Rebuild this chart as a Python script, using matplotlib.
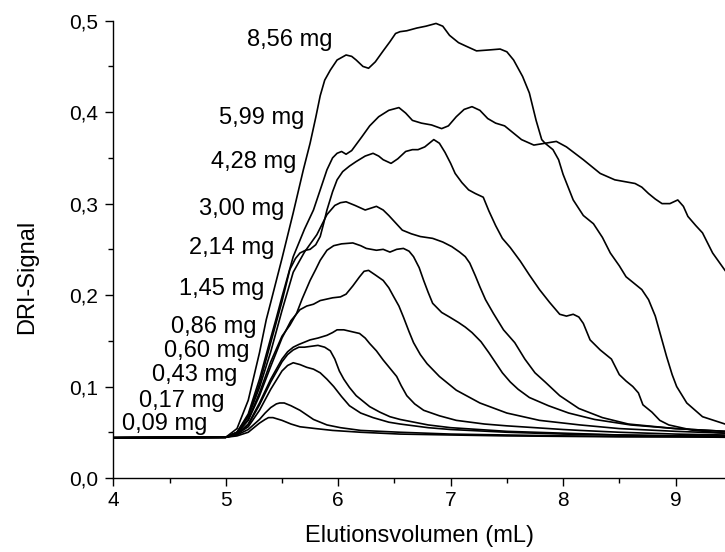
import matplotlib
matplotlib.use("Agg")
import matplotlib.pyplot as plt
from matplotlib.ticker import MultipleLocator, FuncFormatter

plt.rcParams['font.family'] = ['Liberation Sans', 'DejaVu Sans']

# Elugramme (DRI-Signal) fuer verschiedene Einwaagen
massen = ["0,09 mg", "0,17 mg", "0,43 mg", "0,60 mg", "0,86 mg", "1,45 mg",
          "2,14 mg", "3,00 mg", "4,28 mg", "5,99 mg", "8,56 mg"]

x_009 = [4.0, 5.0, 5.1, 5.2, 5.25, 5.3, 5.35, 5.38, 5.42, 5.5, 5.58, 5.66, 5.8, 5.95, 6.2,
         6.55, 7.0, 7.5, 8.0, 8.5, 9.0, 9.44]
y_009 = [0.044, 0.0445, 0.046, 0.050, 0.055, 0.060, 0.064, 0.066, 0.066, 0.063, 0.059, 0.056,
         0.054, 0.052, 0.050, 0.048, 0.047, 0.046, 0.0455, 0.045, 0.045, 0.0445]

x_017 = [4.0, 5.0, 5.1, 5.2, 5.3, 5.35, 5.4, 5.45, 5.48, 5.52, 5.58, 5.66, 5.72, 5.78, 5.9,
         6.02, 6.2, 6.55, 7.0, 7.5, 8.0, 8.5, 9.0, 9.44]
y_017 = [0.044, 0.0445, 0.047, 0.053, 0.064, 0.071, 0.077, 0.081, 0.082, 0.082, 0.079, 0.074,
         0.069, 0.064, 0.058, 0.055, 0.052, 0.050, 0.048, 0.047, 0.046, 0.0455, 0.045, 0.045]

x_043 = [4.0, 5.0, 5.1, 5.2, 5.3, 5.4, 5.5, 5.55, 5.6, 5.66, 5.72, 5.78, 5.84, 5.9, 5.96,
         6.03, 6.1, 6.2, 6.31, 6.45, 6.55, 6.8, 7.0, 7.5, 8.0, 8.5, 9.0, 9.44]
y_043 = [0.044, 0.0445, 0.048, 0.056, 0.074, 0.097, 0.117, 0.123, 0.126, 0.124, 0.121, 0.119,
         0.115, 0.108, 0.100, 0.089, 0.079, 0.071, 0.066, 0.061, 0.059, 0.055, 0.053, 0.050,
         0.048, 0.047, 0.046, 0.0455]

x_060 = [4.0, 5.0, 5.1, 5.2, 5.3, 5.4, 5.5, 5.55, 5.6, 5.65, 5.7, 5.76, 5.82, 5.88, 5.93,
         5.97, 6.01, 6.05, 6.1, 6.16, 6.21, 6.28, 6.37, 6.46, 6.55, 6.8, 7.0, 7.5, 8.0, 8.5,
         9.0, 9.44]
y_060 = [0.044, 0.0445, 0.048, 0.058, 0.080, 0.105, 0.127, 0.135, 0.140, 0.143, 0.143, 0.144,
         0.145, 0.143, 0.139, 0.130, 0.117, 0.108, 0.099, 0.090, 0.085, 0.078, 0.072, 0.067,
         0.064, 0.058, 0.055, 0.051, 0.049, 0.047, 0.046, 0.046]

x_086 = [4.0, 5.0, 5.1, 5.2, 5.3, 5.4, 5.5, 5.55, 5.6, 5.65, 5.75, 5.82, 5.9, 5.95, 5.99,
         6.05, 6.12, 6.19, 6.24, 6.28, 6.34, 6.40, 6.46, 6.52, 6.56, 6.61, 6.68, 6.76, 6.9,
         7.05, 7.3, 7.5, 8.0, 8.15, 8.5, 9.0, 9.44]
y_086 = [0.044, 0.0445, 0.048, 0.059, 0.082, 0.108, 0.130, 0.138, 0.143, 0.146, 0.151, 0.153,
         0.156, 0.159, 0.162, 0.162, 0.160, 0.158, 0.153, 0.147, 0.139, 0.129, 0.120, 0.111,
         0.101, 0.090, 0.081, 0.074, 0.068, 0.063, 0.059, 0.057, 0.053, 0.052, 0.050, 0.048,
         0.047]

x_145 = [4.0, 5.0, 5.1, 5.2, 5.3, 5.4, 5.5, 5.58, 5.66, 5.72, 5.78, 5.84, 5.95, 6.02, 6.07,
         6.13, 6.19, 6.23, 6.27, 6.33, 6.40, 6.45, 6.49, 6.54, 6.58, 6.63, 6.67, 6.73, 6.79,
         6.9, 7.05, 7.26, 7.5, 7.79, 8.15, 8.5, 9.0, 9.44]
y_145 = [0.044, 0.0445, 0.049, 0.063, 0.090, 0.122, 0.153, 0.172, 0.184, 0.188, 0.190, 0.194,
         0.197, 0.198, 0.201, 0.210, 0.220, 0.226, 0.227, 0.222, 0.216, 0.208, 0.199, 0.188,
         0.176, 0.160, 0.148, 0.135, 0.125, 0.111, 0.096, 0.082, 0.071, 0.063, 0.058, 0.054,
         0.051, 0.049]

x_214 = [4.0, 5.0, 5.1, 5.2, 5.3, 5.4, 5.5, 5.57, 5.63, 5.68, 5.75, 5.8, 5.84, 5.9, 5.96,
         6.03, 6.13, 6.2, 6.25, 6.34, 6.40, 6.46, 6.52, 6.58, 6.63, 6.67, 6.72, 6.76, 6.8,
         6.84, 6.92, 6.99, 7.07, 7.13, 7.19, 7.27, 7.34, 7.40, 7.46, 7.53, 7.60, 7.7, 7.87,
         8.05, 8.28, 8.6, 9.0, 9.44]
y_214 = [0.044, 0.0445, 0.049, 0.064, 0.093, 0.127, 0.155, 0.167, 0.180, 0.196, 0.216, 0.228,
         0.238, 0.249, 0.254, 0.256, 0.257, 0.254, 0.251, 0.249, 0.250, 0.247, 0.250, 0.251,
         0.248, 0.242, 0.230, 0.216, 0.203, 0.191, 0.181, 0.176, 0.170, 0.165, 0.159, 0.149,
         0.137, 0.126, 0.115, 0.105, 0.097, 0.088, 0.079, 0.071, 0.064, 0.058, 0.054, 0.051]

x_300 = [4.0, 5.0, 5.1, 5.2, 5.3, 5.4, 5.5, 5.6, 5.7, 5.81, 5.9, 5.97, 6.02, 6.07, 6.15,
         6.24, 6.29, 6.34, 6.40, 6.45, 6.51, 6.57, 6.65, 6.73, 6.84, 6.93, 7.01, 7.08, 7.13,
         7.17, 7.22, 7.26, 7.31, 7.38, 7.47, 7.57, 7.66, 7.75, 7.84, 7.97, 8.14, 8.35, 8.58,
         9.0, 9.44]
y_300 = [0.044, 0.0445, 0.050, 0.067, 0.099, 0.138, 0.183, 0.225, 0.247, 0.266, 0.288, 0.298,
         0.301, 0.302, 0.298, 0.293, 0.295, 0.297, 0.293, 0.287, 0.279, 0.271, 0.267, 0.264,
         0.262, 0.258, 0.253, 0.247, 0.242, 0.235, 0.221, 0.209, 0.195, 0.180, 0.162, 0.148,
         0.130, 0.115, 0.105, 0.090, 0.076, 0.066, 0.059, 0.054, 0.051]

x_428 = [4.0, 5.0, 5.1, 5.2, 5.3, 5.4, 5.5, 5.57, 5.62, 5.66, 5.71, 5.75, 5.8, 5.84, 5.87,
         5.90, 5.95, 5.99, 6.04, 6.1, 6.16, 6.24, 6.31, 6.36, 6.40, 6.47, 6.53, 6.60, 6.66,
         6.71, 6.77, 6.85, 6.90, 6.95, 7.0, 7.04, 7.1, 7.16, 7.22, 7.29, 7.34, 7.40, 7.46,
         7.53, 7.62, 7.70, 7.79, 7.88, 7.97, 8.03, 8.09, 8.14, 8.18, 8.24, 8.33, 8.43, 8.50,
         8.56, 8.62, 8.67, 8.71, 8.79, 8.86, 8.94, 9.16, 9.44]
y_428 = [0.044, 0.0445, 0.050, 0.068, 0.103, 0.148, 0.193, 0.228, 0.240, 0.246, 0.249, 0.250,
         0.255, 0.264, 0.278, 0.293, 0.313, 0.326, 0.335, 0.341, 0.346, 0.352, 0.355, 0.352,
         0.348, 0.344, 0.349, 0.357, 0.359, 0.359, 0.362, 0.370, 0.366, 0.356, 0.344, 0.333,
         0.323, 0.315, 0.311, 0.307, 0.292, 0.276, 0.262, 0.252, 0.237, 0.222, 0.206, 0.192,
         0.179, 0.177, 0.179, 0.176, 0.169, 0.151, 0.140, 0.130, 0.113, 0.106, 0.100, 0.093,
         0.080, 0.072, 0.063, 0.058, 0.052, 0.049]

x_599 = [4.0, 5.0, 5.1, 5.2, 5.3, 5.4, 5.45, 5.5, 5.6, 5.7, 5.78, 5.84, 5.90, 5.95, 5.99,
         6.03, 6.07, 6.12, 6.21, 6.28, 6.36, 6.45, 6.54, 6.60, 6.66, 6.74, 6.83, 6.92, 6.98,
         7.05, 7.12, 7.19, 7.26, 7.33, 7.40, 7.48, 7.55, 7.63, 7.74, 7.84, 7.91, 7.96, 8.0,
         8.09, 8.18, 8.27, 8.35, 8.42, 8.5, 8.56, 8.64, 8.70, 8.76, 8.82, 8.87, 8.92, 8.97,
         9.01, 9.10, 9.24, 9.44]
y_599 = [0.044, 0.0445, 0.050, 0.070, 0.108, 0.153, 0.175, 0.198, 0.242, 0.272, 0.293, 0.315,
         0.337, 0.350, 0.355, 0.357, 0.354, 0.358, 0.373, 0.385, 0.395, 0.402, 0.405, 0.399,
         0.391, 0.388, 0.386, 0.382, 0.385, 0.395, 0.403, 0.406, 0.402, 0.393, 0.388, 0.385,
         0.378, 0.370, 0.364, 0.366, 0.359, 0.348, 0.332, 0.304, 0.287, 0.278, 0.263, 0.246,
         0.232, 0.220, 0.212, 0.206, 0.195, 0.177, 0.155, 0.133, 0.113, 0.100, 0.082, 0.067,
         0.059]

x_856 = [4.0, 5.0, 5.1, 5.2, 5.3, 5.36, 5.4, 5.5, 5.6, 5.69, 5.75, 5.8, 5.84, 5.88, 5.93,
         5.99, 6.07, 6.12, 6.16, 6.22, 6.27, 6.33, 6.40, 6.46, 6.51, 6.55, 6.61, 6.70, 6.78,
         6.87, 6.93, 6.99, 7.07, 7.14, 7.23, 7.34, 7.44, 7.50, 7.56, 7.64, 7.70, 7.76, 7.81,
         7.84, 7.94, 8.03, 8.18, 8.33, 8.46, 8.55, 8.64, 8.70, 8.76, 8.82, 8.88, 8.95, 9.02,
         9.07, 9.11, 9.18, 9.24, 9.33, 9.44]
y_856 = [0.044, 0.0445, 0.054, 0.085, 0.137, 0.173, 0.192, 0.240, 0.290, 0.337, 0.366, 0.394,
         0.418, 0.435, 0.446, 0.457, 0.4625, 0.461, 0.457, 0.450, 0.448, 0.455, 0.467, 0.477,
         0.486, 0.488, 0.489, 0.492, 0.494, 0.497, 0.494, 0.484, 0.476, 0.472, 0.467, 0.468,
         0.469, 0.466, 0.457, 0.439, 0.421, 0.391, 0.370, 0.366, 0.368, 0.362, 0.348, 0.333,
         0.326, 0.324, 0.322, 0.318, 0.311, 0.305, 0.300, 0.300, 0.304, 0.297, 0.286, 0.276,
         0.268, 0.246, 0.227]

kurven_x = [x_009, x_017, x_043, x_060, x_086, x_145, x_214, x_300, x_428, x_599, x_856]
kurven_y = [y_009, y_017, y_043, y_060, y_086, y_145, y_214, y_300, y_428, y_599, y_856]

# Beschriftung der Kurven (rechtes Ende des Textes, Hoehe)
label_x = [4.84, 4.99, 5.10, 5.21, 5.27, 5.34, 5.43, 5.52, 5.63, 5.70, 5.95]
label_y = [0.059, 0.084, 0.113, 0.139, 0.165, 0.207, 0.251, 0.294, 0.346, 0.394, 0.479]

fig = plt.figure(figsize=(7.25, 5.52), dpi=100)
ax = fig.add_axes([0.1563, 0.1341, 0.8437, 0.8284])

for xs, ys in zip(kurven_x, kurven_y):
    ax.plot(xs, ys, color='black', lw=1.2, solid_joinstyle='round')

for txt, lx, ly in zip(massen, label_x, label_y):
    ax.text(lx, ly, txt, ha='right', va='center', fontsize=17)

ax.set_xlim(4, 9.44)
ax.set_ylim(0, 0.5)
ax.spines['top'].set_visible(False)
ax.spines['right'].set_visible(False)
ax.spines['left'].set_linewidth(1.0)
ax.spines['bottom'].set_linewidth(1.0)

ax.xaxis.set_major_locator(MultipleLocator(1))
ax.xaxis.set_minor_locator(MultipleLocator(0.5))
ax.yaxis.set_major_locator(MultipleLocator(0.1))
ax.yaxis.set_minor_locator(MultipleLocator(0.05))
ax.yaxis.set_major_formatter(FuncFormatter(lambda v, p: f"{v:.1f}".replace(".", ",")))
ax.tick_params(which='major', direction='out', length=6, width=1.0, labelsize=15)
ax.tick_params(axis='y', which='major', pad=5)
ax.tick_params(which='minor', direction='out', length=3.5, width=1.0)

ax.set_xlabel("Elutionsvolumen (mL)", fontsize=17)
ax.set_ylabel("DRI-Signal", fontsize=17)
ax.xaxis.set_label_coords(0.5, -0.102)
ax.yaxis.set_label_coords(-0.123, 0.44)

fig.savefig("out.png", dpi=100)
